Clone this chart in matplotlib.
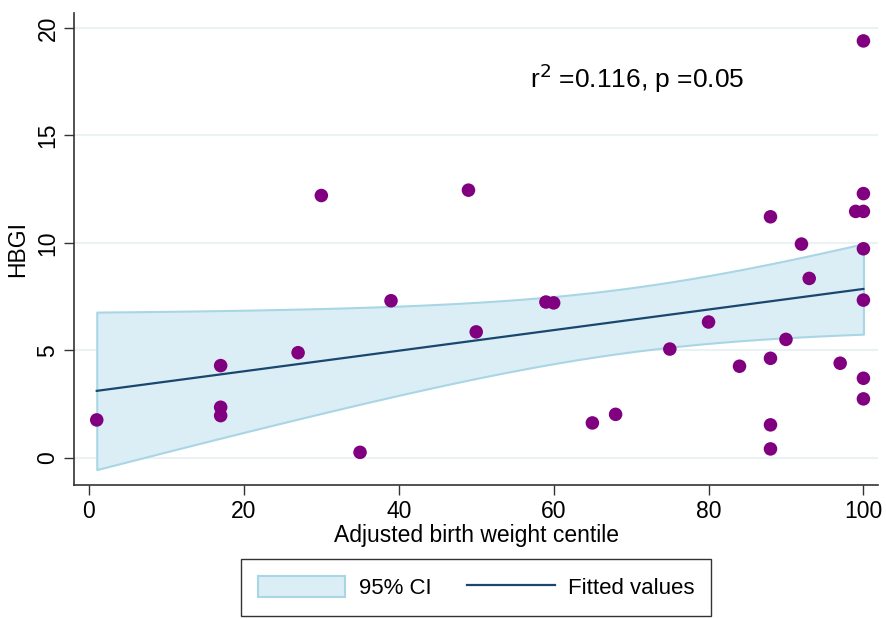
import numpy as np
import matplotlib.pyplot as plt

plt.rcParams['font.family'] = ['Liberation Sans', 'DejaVu Sans']

# ==========================
# Data
# ==========================
centile = [1, 17, 17, 17, 27, 30, 35, 39, 49, 50, 59, 60, 65, 68, 75, 80, 84,
           88, 88, 88, 88, 90, 92, 93, 97, 99,
           100, 100, 100, 100, 100, 100, 100]
hbgi = [1.75, 4.28, 2.34, 1.95, 4.88, 12.2, 0.24, 7.3, 12.45, 5.85, 7.24, 7.2,
        1.61, 2.01, 5.05, 6.31, 4.25,
        11.21, 4.62, 1.52, 0.4, 5.5, 9.94, 8.34, 4.39, 11.46,
        19.4, 12.29, 11.46, 9.72, 7.33, 3.69, 2.73]
annotation = "r$^2$ =0.116, p =0.05"

x = np.array(centile, dtype=float)
y = np.array(hbgi, dtype=float)

# ==========================
# Linear fit and 95% CI of the mean
# ==========================
n = len(x)
slope, intercept = np.polyfit(x, y, 1)
resid = y - (intercept + slope * x)
s = np.sqrt(np.sum(resid ** 2) / (n - 2))
sxx = np.sum((x - x.mean()) ** 2)
t_crit = 2.0395  # t(0.975, df=31)

xs = np.linspace(x.min(), x.max(), 200)
fit = intercept + slope * xs
half = t_crit * s * np.sqrt(1 / n + (xs - x.mean()) ** 2 / sxx)

# ==========================
# Plot
# ==========================
fig = plt.figure(figsize=(8.87, 6.19), dpi=100)
ax = fig.add_axes([0.0834, 0.2165, 0.9066, 0.7625])

ci = ax.fill_between(xs, fit - half, fit + half, facecolor="#dceef5",
                     edgecolor="#a9d6e5", linewidth=1.5, zorder=2,
                     label="95% CI")
fl, = ax.plot(xs, fit, color="#1a476f", linewidth=1.6, zorder=3,
              label="Fitted values")
ax.scatter(x, y, s=95, color="#800080", edgecolors="none", zorder=4)

ax.text(57.0, 17.65, annotation, fontsize=19, va="center", ha="left")

ax.set_xlim(-1.94, 101.9)
ax.set_ylim(-1.28, 20.7)
ax.set_xticks([0, 20, 40, 60, 80, 100])
ax.set_yticks([0, 5, 10, 15, 20])
ax.tick_params(axis="both", labelsize=16.5, direction="out", length=7,
               width=1, color="#333333")
for lbl in ax.get_yticklabels():
    lbl.set_rotation(90)
    lbl.set_va("center")

ax.set_xlabel("Adjusted birth weight centile", fontsize=16.5, labelpad=1)
ax.set_ylabel("HBGI", fontsize=16.5, labelpad=5)

ax.grid(axis="y", color="#eaf2f3", linewidth=1.5, zorder=0)
ax.set_axisbelow(True)
for side in ["top", "right"]:
    ax.spines[side].set_visible(False)
for side in ["left", "bottom"]:
    ax.spines[side].set_color("#333333")
    ax.spines[side].set_linewidth(1.2)

leg = fig.legend(handles=[ci, fl], loc="upper center",
                 bbox_to_anchor=(476 / 887, (619 - 559) / 619), ncol=2,
                 fontsize=16, frameon=True, fancybox=False,
                 handlelength=3.95, handleheight=1.1, handletextpad=0.6,
                 columnspacing=1.6, borderpad=0.75, borderaxespad=0)
leg.get_frame().set_edgecolor("black")
leg.get_frame().set_linewidth(1.0)

fig.savefig("out.png", dpi=100)
